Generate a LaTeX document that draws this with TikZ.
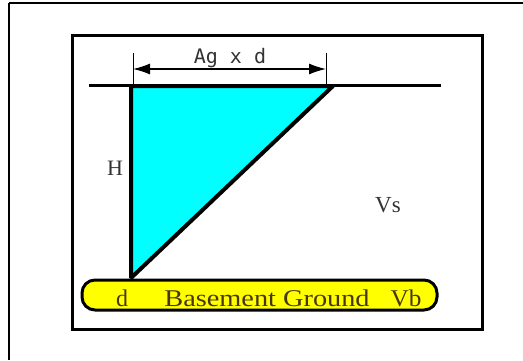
\documentclass[tikz,border=0pt]{standalone}
\usepackage{fontspec}
\setmainfont{Liberation Serif}
\newfontfamily\dimfont{DejaVu Sans Mono}
\usepackage{graphicx}
\usetikzlibrary{arrows.meta}

\definecolor{wedgecyan}{RGB}{0,255,255}
\definecolor{baseyellow}{RGB}{255,255,0}
\definecolor{basetext}{RGB}{70,55,15}

\begin{document}
\begin{tikzpicture}[
  x=1pt, y=-1pt,
  frame/.style={draw=black, line width=3pt},
  wedge/.style={draw=black, line width=4pt, fill=wedgecyan, line join=bevel},
  dimline/.style={{Latex[length=17pt,width=11pt]}-{Latex[length=17pt,width=11pt]}, line width=1.2pt},
  dimtick/.style={line width=1pt},
  txtlabel/.style={font=\fontsize{22}{22}\selectfont, text=black!80},
  basement/.style={draw=black, line width=3pt, fill=baseyellow, rounded corners=13pt, minimum width=355pt, minimum height=30pt, inner sep=0pt},
  basetxt/.style={font=\fontsize{24}{24}\selectfont, text=basetext, anchor=base}
]
\useasboundingbox (0,0) rectangle (523,360);

% outer page frame (only top and left show)
\draw[line width=2pt] (9,3) -- (523,3);
\draw[line width=1.3pt] (9,3) -- (9,360);

% inner frame
\draw[frame] (72,35) rectangle (482,329);

% ground surface and soil wedge
\draw[line width=3pt] (89,85) -- (441,85);
\coordinate (top) at (131,86);
\coordinate (crest) at (333,86);
\coordinate (toe) at (131,278);
\draw[wedge] (top) -- (crest) -- (toe) -- cycle;

% dimension Ag x d
\coordinate (tickL) at (133,53);
\coordinate (tickR) at (326,53);
\draw[dimtick] (tickL) -- (133,84);
\draw[dimtick] (tickR) -- (326,84);
\draw[dimline] (tickL |- 0,69) -- (tickR |- 0,69);
\node[anchor=base, font=\dimfont\fontsize{20}{20}\selectfont, text=black!80] (agd) at (230,63) {Ag x d};

% labels
\node[txtlabel] (H) at (115,168) {H};
\node[txtlabel, font=\fontsize{23}{23}\selectfont] (Vs) at (388,205) {Vs};

% basement ground
\node[basement] (base) at (259.5,295) {};
\node[basetxt] (d) at (122,306) {d};
\node[basetxt] (ground) at (267,306) {\scalebox{1.18}[1]{Basement Ground}};
\node[basetxt] (Vb) at (406,306) {\scalebox{1.05}[1]{Vb}};

\end{tikzpicture}
\end{document}
